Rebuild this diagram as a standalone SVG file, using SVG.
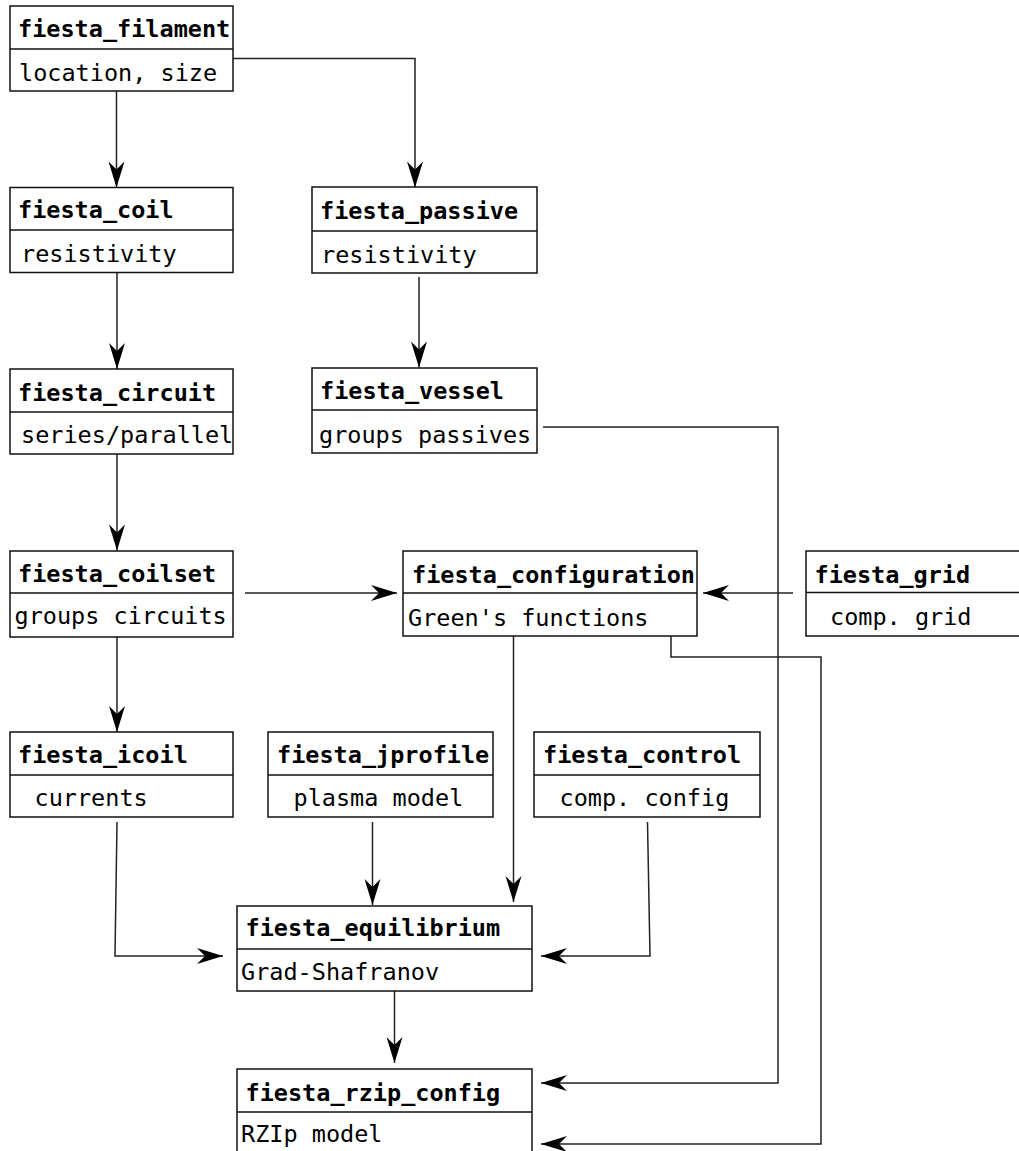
<svg xmlns="http://www.w3.org/2000/svg" width="1019" height="1151" viewBox="0 0 1019 1151">
<style>
.box{fill:#fff;stroke:#111;stroke-width:1.5}
.div{stroke:#111;stroke-width:1.5}
.t{font-family:"DejaVu Sans Mono",monospace;font-size:23.5px;font-weight:bold;fill:#000}
.s{font-family:"DejaVu Sans Mono",monospace;font-size:23.5px;fill:#000}
.c{fill:none;stroke:#222;stroke-width:1.5;marker-end:url(#ah)}
</style>
<defs>
<marker id="ah" markerUnits="userSpaceOnUse" markerWidth="30" markerHeight="18" viewBox="-28 -9 30 18" refX="0" refY="0" orient="auto" overflow="visible">
<path d="M0,0 L-26,-8 L-18,0 L-26,8 Z" fill="#000"/>
</marker>
</defs>
<rect width="1019" height="1151" fill="#fff"/>
<g id="connectors">
<path class="c" d="M116.5,91 V187.5"/>
<path class="c" d="M233,58.5 H415 V187.5"/>
<path class="c" d="M117,272 V369"/>
<path class="c" d="M419,277 V367.5"/>
<path class="c" d="M117,454 V550.5"/>
<path class="c" d="M245,593 H397"/>
<path class="c" d="M793,593 H703"/>
<path class="c" d="M117,637 V732"/>
<path class="c" d="M513.5,636 V902"/>
<path class="c" d="M671,636 V657 H821 V1144 H541"/>
<path class="c" d="M543,427 H778 V1083 H541"/>
<path class="c" d="M117,822 L115,956 H223"/>
<path class="c" d="M372.5,822 V905"/>
<path class="c" d="M647.5,822 L650,956 H541"/>
<path class="c" d="M394.5,989 V1063"/>
</g>
<g id="fiesta_filament">
<rect class="box" x="10" y="6" width="223" height="85"/>
<line class="div" x1="10" y1="49" x2="233" y2="49"/>
<text class="t" x="18" y="37">fiesta_filament</text>
<text class="s" x="19" y="81">location, size</text>
</g>
<g id="fiesta_coil">
<rect class="box" x="10" y="187.5" width="223" height="85"/>
<line class="div" x1="10" y1="230" x2="233" y2="230"/>
<text class="t" x="18" y="218">fiesta_coil</text>
<text class="s" x="21" y="262">resistivity</text>
</g>
<g id="fiesta_passive">
<rect class="box" x="312" y="187" width="225" height="86"/>
<line class="div" x1="312" y1="231" x2="537" y2="231"/>
<text class="t" x="320" y="219">fiesta_passive</text>
<text class="s" x="321" y="263">resistivity</text>
</g>
<g id="fiesta_vessel">
<rect class="box" x="312" y="368" width="225" height="85"/>
<line class="div" x1="312" y1="410" x2="537" y2="410"/>
<text class="t" x="320" y="399">fiesta_vessel</text>
<text class="s" x="319" y="443">groups passives</text>
</g>
<g id="fiesta_circuit">
<rect class="box" x="10" y="369" width="223" height="85"/>
<line class="div" x1="10" y1="412" x2="233" y2="412"/>
<text class="t" x="18" y="401">fiesta_circuit</text>
<text class="s" x="21" y="443">series/parallel</text>
</g>
<g id="fiesta_coilset">
<rect class="box" x="10" y="551" width="223" height="86"/>
<line class="div" x1="10" y1="593" x2="233" y2="593"/>
<text class="t" x="18" y="582">fiesta_coilset</text>
<text class="s" x="14.5" y="624">groups circuits</text>
</g>
<g id="fiesta_configuration">
<rect class="box" x="403" y="551" width="294" height="85"/>
<line class="div" x1="403" y1="593" x2="697" y2="593"/>
<text class="t" x="412" y="583">fiesta_configuration</text>
<text class="s" x="408" y="626">Green's functions</text>
</g>
<g id="fiesta_grid">
<rect class="box" x="806" y="551" width="230" height="85"/>
<line class="div" x1="806" y1="592.5" x2="1036" y2="592.5"/>
<text class="t" x="814.5" y="583">fiesta_grid</text>
<text class="s" x="830" y="625">comp. grid</text>
</g>
<g id="fiesta_icoil">
<rect class="box" x="10" y="732" width="223" height="85"/>
<line class="div" x1="10" y1="775" x2="233" y2="775"/>
<text class="t" x="18" y="763">fiesta_icoil</text>
<text class="s" x="34.5" y="806">currents</text>
</g>
<g id="fiesta_jprofile">
<rect class="box" x="268" y="732" width="225" height="85"/>
<line class="div" x1="268" y1="775" x2="493" y2="775"/>
<text class="t" x="277" y="763">fiesta_jprofile</text>
<text class="s" x="293.5" y="806">plasma model</text>
</g>
<g id="fiesta_control">
<rect class="box" x="534" y="732" width="226" height="85"/>
<line class="div" x1="534" y1="775" x2="760" y2="775"/>
<text class="t" x="543" y="763">fiesta_control</text>
<text class="s" x="559.5" y="806">comp. config</text>
</g>
<g id="fiesta_equilibrium">
<rect class="box" x="237" y="906" width="295" height="85"/>
<line class="div" x1="237" y1="949" x2="532" y2="949"/>
<text class="t" x="245.5" y="936">fiesta_equilibrium</text>
<text class="s" x="241" y="980">Grad-Shafranov</text>
</g>
<g id="fiesta_rzip_config">
<rect class="box" x="237" y="1069" width="295" height="100"/>
<line class="div" x1="237" y1="1112" x2="532" y2="1112"/>
<text class="t" x="245.5" y="1101">fiesta_rzip_config</text>
<text class="s" x="241" y="1142">RZIp model</text>
</g>
</svg>
